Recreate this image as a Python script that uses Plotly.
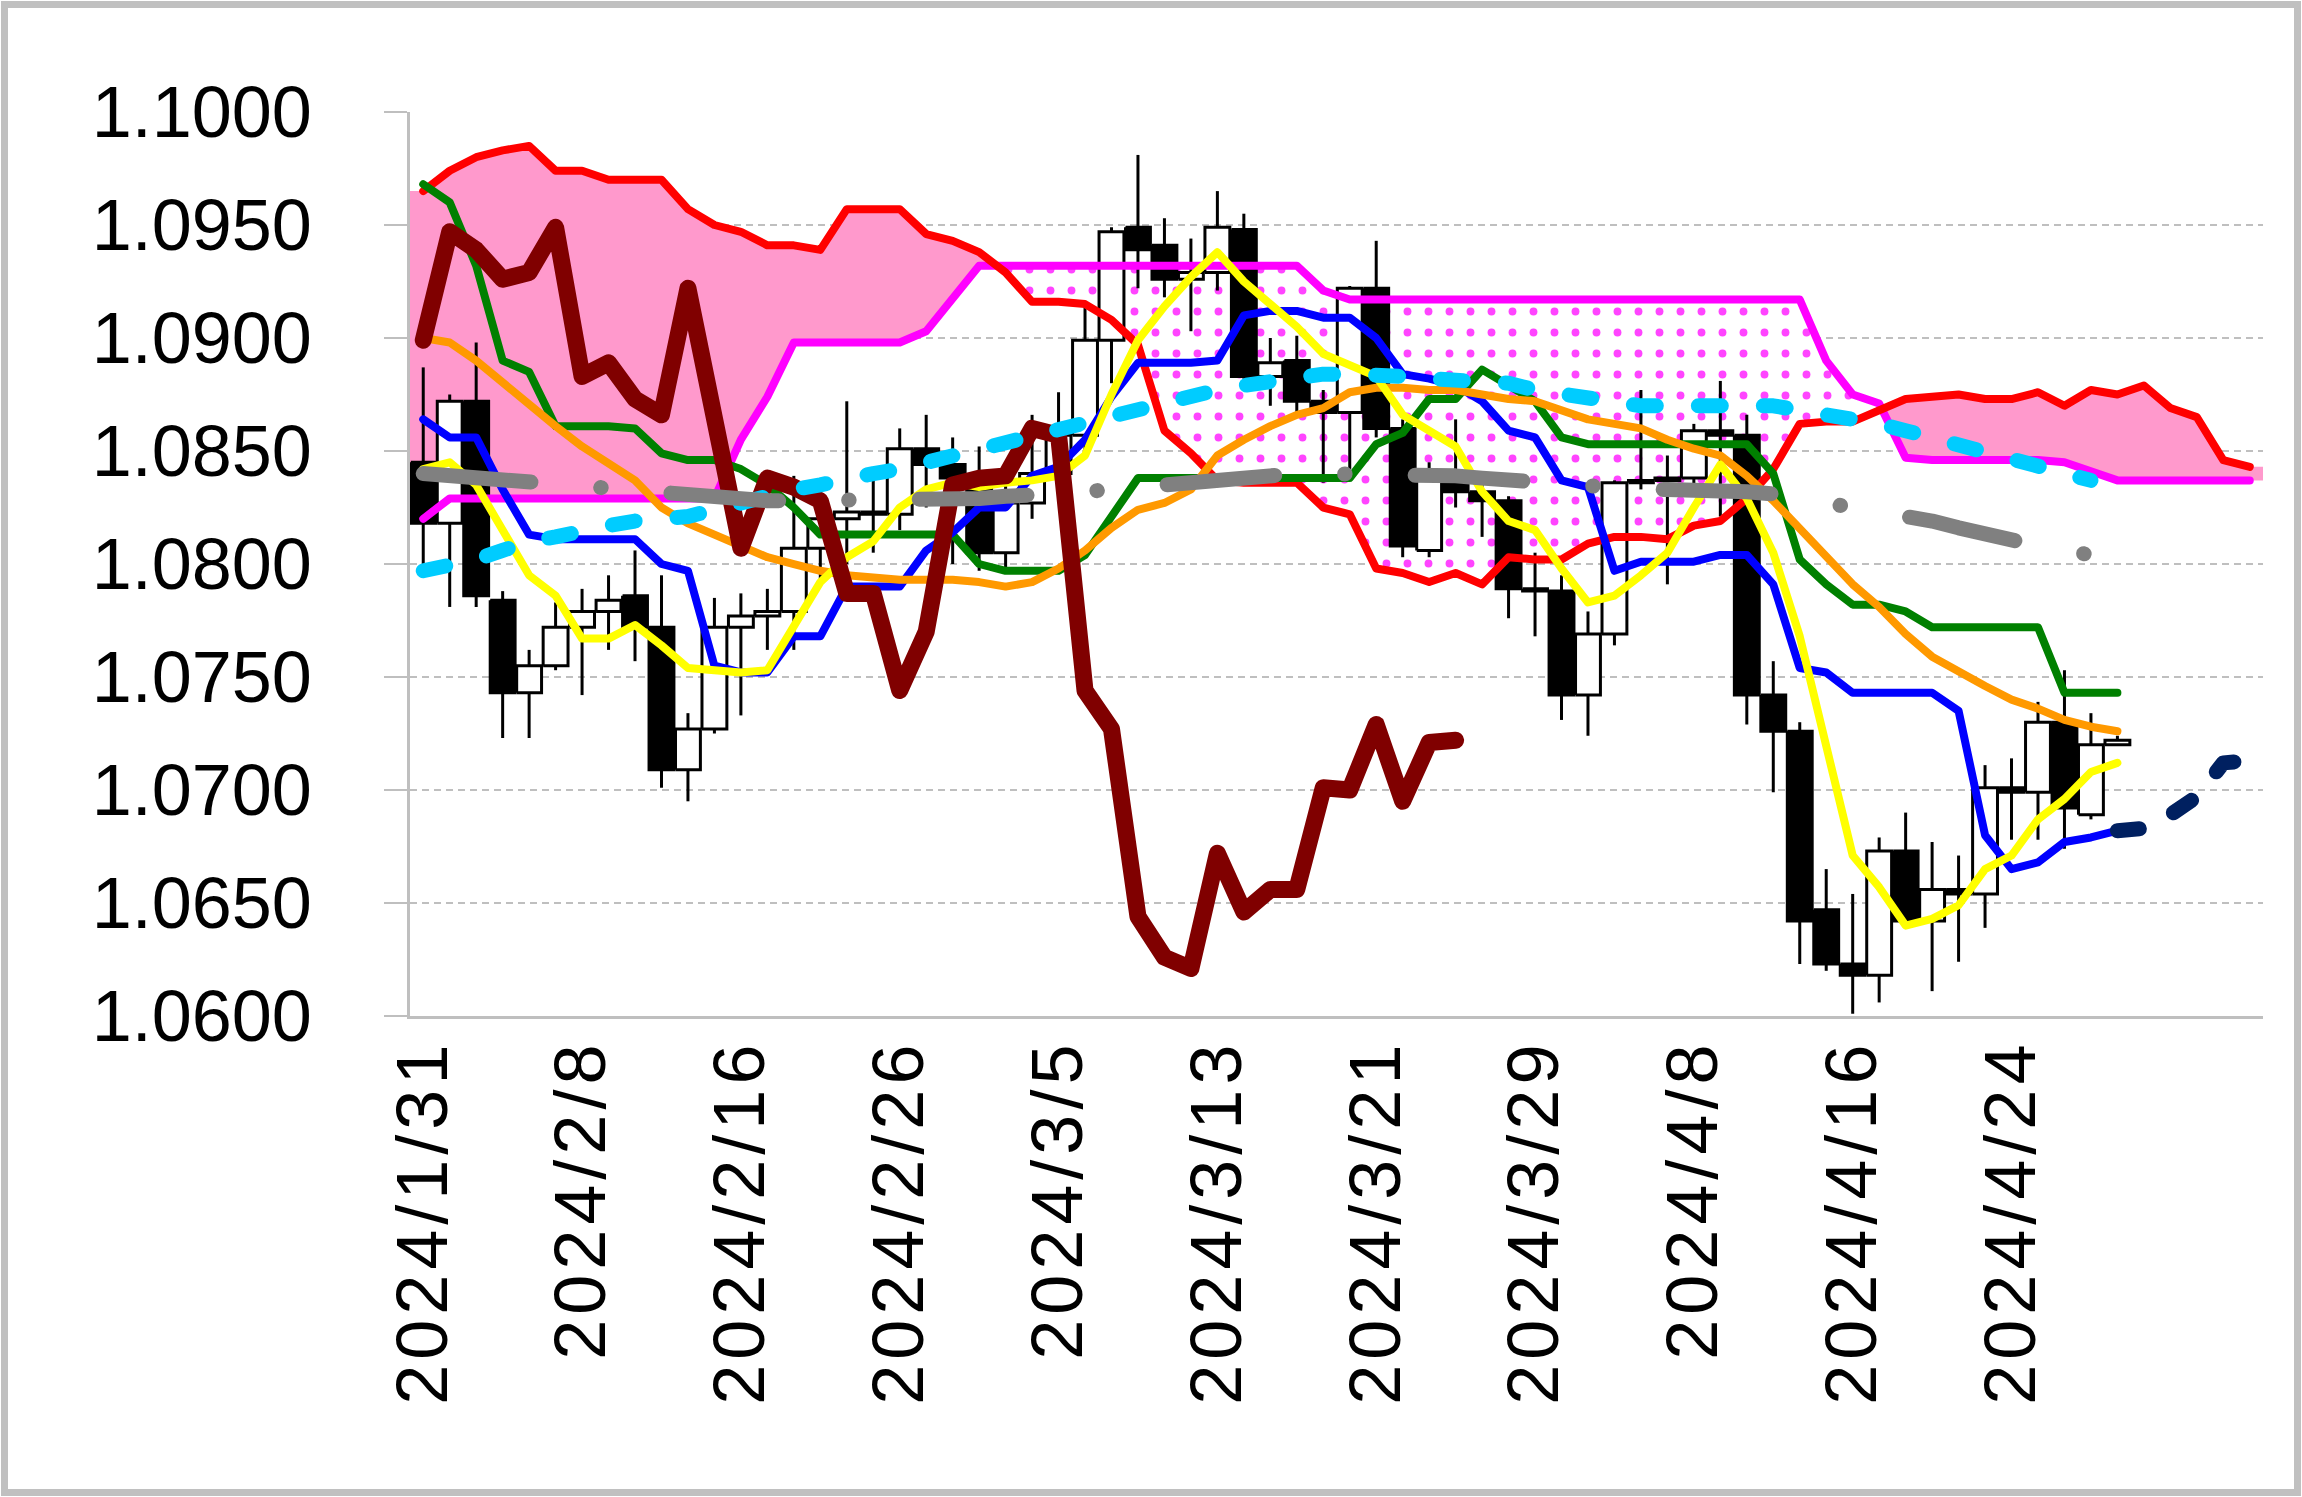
import numpy as np
import pandas as pd
import plotly.graph_objects as go

# ---------------- data ----------------
N_SLOTS = 70
dates = pd.bdate_range("2024-01-31", periods=N_SLOTS)
categories = [f"{d.year}/{d.month}/{d.day}" for d in dates]
tick_labels = ["2024/1/31", "2024/2/8", "2024/2/16", "2024/2/26", "2024/3/5", "2024/3/13",
               "2024/3/21", "2024/3/29", "2024/4/8", "2024/4/16", "2024/4/24"]

opens = [1.0845, 1.0818, 1.0872, 1.0784, 1.0743, 1.0755, 1.0772, 1.0779, 1.0786, 1.0772,
         1.0709, 1.0727, 1.0772, 1.0777, 1.0779, 1.0807, 1.0820, 1.0823, 1.0822, 1.0851,
         1.0844, 1.0838, 1.0805, 1.0827, 1.0840, 1.0857, 1.0899, 1.0949, 1.0941, 1.0926,
         1.0929, 1.0948, 1.0883, 1.0890, 1.0872, 1.0867, 1.0922, 1.0860, 1.0806, 1.0836,
         1.0832, 1.0828, 1.0789, 1.0788, 1.0742, 1.0769, 1.0836, 1.0837, 1.0838, 1.0859,
         1.0857, 1.0742, 1.0726, 1.0647, 1.0623, 1.0618, 1.0673, 1.0642, 1.0656, 1.0654,
         1.0701, 1.0699, 1.0730, 1.0689, 1.0720]
highs = [1.0887, 1.0875, 1.0898, 1.0788, 1.0762, 1.0783, 1.0789, 1.0795, 1.0806, 1.0795,
         1.0734, 1.0785, 1.0787, 1.0789, 1.0839, 1.0830, 1.0872, 1.0840, 1.0860, 1.0866,
         1.0856, 1.0852, 1.0835, 1.0866, 1.0876, 1.0914, 1.0949, 1.0981, 1.0953, 1.0944,
         1.0965, 1.0955, 1.0900, 1.0901, 1.0877, 1.0923, 1.0943, 1.0864, 1.0845, 1.0864,
         1.0840, 1.0830, 1.0805, 1.0795, 1.0779, 1.0837, 1.0877, 1.0848, 1.0862, 1.0881,
         1.0866, 1.0757, 1.0730, 1.0665, 1.0654, 1.0679, 1.0690, 1.0677, 1.0671, 1.0711,
         1.0714, 1.0739, 1.0753, 1.0734, 1.0724]
lows = [1.0800, 1.0781, 1.0781, 1.0723, 1.0723, 1.0753, 1.0742, 1.0762, 1.0757, 1.0701,
        1.0695, 1.0725, 1.0733, 1.0762, 1.0762, 1.0792, 1.0800, 1.0805, 1.0815, 1.0825,
        1.0800, 1.0797, 1.0798, 1.0820, 1.0830, 1.0848, 1.0880, 1.0922, 1.0918, 1.0903,
        1.0921, 1.0882, 1.0870, 1.0866, 1.0836, 1.0842, 1.0856, 1.0803, 1.0803, 1.0825,
        1.0812, 1.0776, 1.0768, 1.0731, 1.0724, 1.0764, 1.0833, 1.0791, 1.0831, 1.0821,
        1.0729, 1.0699, 1.0623, 1.0620, 1.0601, 1.0606, 1.0640, 1.0611, 1.0624, 1.0639,
        1.0678, 1.0678, 1.0674, 1.0687, 1.0720]
closes = [1.0818, 1.0872, 1.0786, 1.0743, 1.0755, 1.0772, 1.0779, 1.0784, 1.0772, 1.0709,
          1.0727, 1.0772, 1.0777, 1.0779, 1.0807, 1.0820, 1.0823, 1.0822, 1.0851, 1.0844,
          1.0838, 1.0805, 1.0827, 1.0840, 1.0857, 1.0899, 1.0947, 1.0939, 1.0926, 1.0929,
          1.0949, 1.0883, 1.0889, 1.0872, 1.0867, 1.0922, 1.0860, 1.0808, 1.0838, 1.0832,
          1.0828, 1.0789, 1.0788, 1.0742, 1.0769, 1.0836, 1.0837, 1.0838, 1.0859, 1.0857,
          1.0742, 1.0726, 1.0642, 1.0623, 1.0618, 1.0673, 1.0642, 1.0656, 1.0654, 1.0701,
          1.0699, 1.0730, 1.0692, 1.0720, 1.0722]

span_a = [1.0965, 1.0974, 1.0980, 1.0983, 1.0985, 1.0974, 1.0974, 1.0970, 1.0970, 1.0970,
          1.0957, 1.0950, 1.0947, 1.0941, 1.0941, 1.0939, 1.0957, 1.0957, 1.0957, 1.0946,
          1.0943, 1.0938, 1.0929, 1.0916, 1.0916, 1.0915, 1.0908, 1.0897, 1.0859, 1.0849,
          1.0837, 1.0836, 1.0836, 1.0836, 1.0825, 1.0822, 1.0798, 1.0796, 1.0792, 1.0796,
          1.0791, 1.0803, 1.0802, 1.0802, 1.0809, 1.0812, 1.0812, 1.0811, 1.0817, 1.0819,
          1.0829, 1.0842, 1.0862, 1.0863, 1.0863, 1.0868, 1.0873, 1.0874, 1.0875, 1.0873,
          1.0873, 1.0876, 1.0870, 1.0877, 1.0875, 1.0879, 1.0869, 1.0865, 1.0846, 1.0843]
span_b = [1.0820, 1.0829, 1.0829, 1.0829, 1.0829, 1.0829, 1.0829, 1.0829, 1.0829, 1.0829,
          1.0829, 1.0829, 1.0855, 1.0874, 1.0898, 1.0898, 1.0898, 1.0898, 1.0898, 1.0903,
          1.0917, 1.0932, 1.0932, 1.0932, 1.0932, 1.0932, 1.0932, 1.0932, 1.0932, 1.0932,
          1.0932, 1.0932, 1.0932, 1.0932, 1.0921, 1.0917, 1.0917, 1.0917, 1.0917, 1.0917,
          1.0917, 1.0917, 1.0917, 1.0917, 1.0917, 1.0917, 1.0917, 1.0917, 1.0917, 1.0917,
          1.0917, 1.0917, 1.0917, 1.0890, 1.0875, 1.0871, 1.0847, 1.0846, 1.0846, 1.0846,
          1.0846, 1.0846, 1.0845, 1.0841, 1.0837, 1.0837, 1.0837, 1.0837, 1.0837, 1.0837]
kijun = [1.0968, 1.0960, 1.0932, 1.0890, 1.0885, 1.0861, 1.0861, 1.0861, 1.0860, 1.0849,
         1.0846, 1.0846, 1.0842, 1.0835, 1.0825, 1.0813, 1.0813, 1.0813, 1.0813, 1.0813,
         1.0813, 1.0800, 1.0797, 1.0797, 1.0797, 1.0804, 1.0821, 1.0838, 1.0838, 1.0838,
         1.0838, 1.0838, 1.0838, 1.0838, 1.0838, 1.0838, 1.0853, 1.0858, 1.0873, 1.0873,
         1.0886, 1.0879, 1.0872, 1.0856, 1.0853, 1.0853, 1.0853, 1.0853, 1.0853, 1.0853,
         1.0853, 1.0840, 1.0802, 1.0791, 1.0782, 1.0782, 1.0779, 1.0772, 1.0772, 1.0772,
         1.0772, 1.0772, 1.0743, 1.0743, 1.0743]
tenkan = [1.0864, 1.0856, 1.0856, 1.0833, 1.0813, 1.0811, 1.0811, 1.0811, 1.0811, 1.0800,
          1.0797, 1.0755, 1.0752, 1.0752, 1.0768, 1.0768, 1.0790, 1.0790, 1.0790, 1.0806,
          1.0814, 1.0825, 1.0825, 1.0839, 1.0843, 1.0855, 1.0874, 1.0889, 1.0889, 1.0889,
          1.0890, 1.0910, 1.0912, 1.0912, 1.0909, 1.0909, 1.0900, 1.0884, 1.0882, 1.0879,
          1.0872, 1.0859, 1.0856, 1.0837, 1.0834, 1.0797, 1.0801, 1.0801, 1.0801, 1.0804,
          1.0804, 1.0791, 1.0754, 1.0752, 1.0743, 1.0743, 1.0743, 1.0743, 1.0735, 1.0680,
          1.0665, 1.0668, 1.0677, 1.0679, 1.0682]
tenkan_future = [1.0682, 1.0683, 1.0689, 1.0697, 1.0712, 1.0713]
ma_short = [1.0842, 1.0845, 1.0835, 1.0815, 1.0795, 1.0786, 1.0767, 1.0767, 1.0773, 1.0764,
            1.0754, 1.0753, 1.0752, 1.0753, 1.0773, 1.0792, 1.0803, 1.0810, 1.0825, 1.0833,
            1.0836, 1.0834, 1.0836, 1.0837, 1.0839, 1.0848, 1.0875, 1.0899, 1.0914, 1.0927,
            1.0938, 1.0925, 1.0915, 1.0905, 1.0893, 1.0888, 1.0883, 1.0866, 1.0859, 1.0852,
            1.0832, 1.0819, 1.0815, 1.0798, 1.0783, 1.0786, 1.0795, 1.0805, 1.0825, 1.0844,
            1.0829, 1.0805, 1.0768, 1.0720, 1.0671, 1.0657, 1.0640, 1.0643, 1.0649, 1.0665,
            1.0671, 1.0687, 1.0696, 1.0708, 1.0712]
ma_mid = [1.0900, 1.0898, 1.0890, 1.0880, 1.0870, 1.0861, 1.0852, 1.0845, 1.0837, 1.0825,
          1.0818, 1.0813, 1.0808, 1.0803, 1.0800, 1.0797, 1.0795, 1.0794, 1.0793, 1.0793,
          1.0793, 1.0792, 1.0790, 1.0792, 1.0798, 1.0806, 1.0816, 1.0824, 1.0827, 1.0833,
          1.0848, 1.0855, 1.0861, 1.0866, 1.0869, 1.0876, 1.0878, 1.0878, 1.0877, 1.0877,
          1.0875, 1.0873, 1.0872, 1.0868, 1.0864, 1.0862, 1.0860, 1.0855, 1.0851, 1.0848,
          1.0839, 1.0828, 1.0816, 1.0804, 1.0791, 1.0781, 1.0769, 1.0759, 1.0752, 1.0746,
          1.0740, 1.0736, 1.0731, 1.0728, 1.0726]
ma_long = [1.0797, 1.0799, 1.0802, 1.0806, 1.0810, 1.0812, 1.0815, 1.0817, 1.0819, 1.0820,
           1.0821, 1.0824, 1.0827, 1.0831, 1.0833, 1.0835, 1.0838, 1.0840, 1.0842, 1.0845,
           1.0848, 1.0851, 1.0854, 1.0856, 1.0859, 1.0862, 1.0866, 1.0869, 1.0871, 1.0874,
           1.0877, 1.0879, 1.0881, 1.0883, 1.0884, 1.0884, 1.0884, 1.0883, 1.0882, 1.0881,
           1.0881, 1.0880, 1.0877, 1.0875, 1.0873, 1.0871, 1.0870, 1.0870, 1.0870, 1.0871,
           1.0871, 1.0870, 1.0868, 1.0866, 1.0865, 1.0862, 1.0859, 1.0856, 1.0852, 1.0850,
           1.0847, 1.0844, 1.0841, 1.0837]
ma_xlong = [1.0840, 1.0839, 1.0838, 1.0837, 1.0836, 1.0835, 1.0834, 1.0833, 1.0832, 1.0831,
            1.0830, 1.0829, 1.0829, 1.0828, 1.0828, 1.0828, 1.0828, 1.0828, 1.0828, 1.0829,
            1.0829, 1.0829, 1.0830, 1.0830, 1.0831, 1.0832, 1.0833, 1.0834, 1.0836, 1.0837,
            1.0838, 1.0838, 1.0839, 1.0840, 1.0840, 1.0840, 1.0840, 1.0840, 1.0840, 1.0839,
            1.0838, 1.0837, 1.0836, 1.0835, 1.0834, 1.0833, 1.0833, 1.0833, 1.0833, 1.0832,
            1.0832, 1.0831, 1.0829, 1.0828, 1.0826, 1.0824, 1.0821, 1.0819, 1.0816, 1.0813,
            1.0811, 1.0808, 1.0806, 1.0804]
chikou = [1.0899, 1.0947, 1.0939, 1.0926, 1.0929, 1.0949, 1.0883, 1.0889, 1.0873, 1.0866,
          1.0922, 1.0862, 1.0807, 1.0838, 1.0834, 1.0828, 1.0787, 1.0787, 1.0744, 1.0770,
          1.0835, 1.0838, 1.0839, 1.0860, 1.0857, 1.0744, 1.0727, 1.0644, 1.0626, 1.0621,
          1.0672, 1.0646, 1.0656, 1.0656, 1.0701, 1.0700, 1.0729, 1.0695, 1.0721, 1.0722]

# ---------------- geometry of the page ----------------
W, H = 2302, 1497
ML, MR, MT, MB = 410, 39, 112, 481
PW, PH = W - ML - MR, H - MT - MB
FONT = "Liberation Sans, Arial, sans-serif"

def paper_x(px):
    return (px - ML) / PW

def paper_y(py):
    return (H - MB - py) / PH

x_all = np.arange(N_SLOTS, dtype=float)
fig = go.Figure()

# ---------------- cloud ----------------
A = np.array(span_a)
B = np.array(span_b)
cx, ca, cb = [x_all[0] - 0.5], [A[0]], [B[0]]
for i in range(len(A)):
    cx.append(x_all[i]); ca.append(A[i]); cb.append(B[i])
    if i < len(A) - 1:
        d0, d1 = A[i] - B[i], A[i + 1] - B[i + 1]
        if d0 * d1 < 0:
            t = d0 / (d0 - d1)
            cx.append(x_all[i] + t)
            v = A[i] + t * (A[i + 1] - A[i])
            ca.append(v); cb.append(v)
cx.append(x_all[len(A) - 1] + 0.5); ca.append(A[-1]); cb.append(B[-1])
ca, cb = np.array(ca), np.array(cb)
top = np.maximum(ca, cb)

fig.add_trace(go.Scatter(x=cx, y=cb, mode="lines", line=dict(width=0), hoverinfo="skip"))
fig.add_trace(go.Scatter(x=cx, y=top, mode="lines", line=dict(width=0), fill="tonexty",
                         fillcolor="#FF99CC", hoverinfo="skip"))
fig.add_trace(go.Scatter(x=cx, y=ca, mode="lines", line=dict(width=0), hoverinfo="skip"))
fig.add_trace(go.Scatter(x=cx, y=top, mode="lines", line=dict(width=0), fill="tonexty",
                         fillcolor="#FFFFFF",
                         fillpattern=dict(shape=".", fgcolor="#FF44FF", bgcolor="#FFFFFF",
                                          size=21, solidity=0.11, fillmode="replace"),
                         hoverinfo="skip"))

# ---------------- candles ----------------
nc = len(closes)
hw = 0.47
wx, wy = [], []
ux, uy, dx, dy = [], [], [], []
for i in range(nc):
    wx += [x_all[i], x_all[i], None]
    wy += [lows[i], highs[i], None]
    o, c = opens[i], closes[i]
    px_ = [x_all[i] - hw, x_all[i] + hw, x_all[i] + hw, x_all[i] - hw, x_all[i] - hw, None]
    py_ = [o, o, c, c, o, None]
    if c >= o:
        ux += px_; uy += py_
    else:
        dx += px_; dy += py_
fig.add_trace(go.Scatter(x=wx, y=wy, mode="lines", line=dict(color="black", width=3),
                         hoverinfo="skip"))
fig.add_trace(go.Scatter(x=ux, y=uy, mode="lines", fill="toself", fillcolor="white",
                         line=dict(color="black", width=3), hoverinfo="skip"))
fig.add_trace(go.Scatter(x=dx, y=dy, mode="lines", fill="toself", fillcolor="black",
                         line=dict(color="black", width=3), hoverinfo="skip"))

# ---------------- indicator lines ----------------
round_idx = []

def add_line(xv, yv, color, width, dash="solid", rnd=True):
    fig.add_trace(go.Scatter(x=xv, y=yv, mode="lines",
                             line=dict(color=color, width=width, dash=dash), hoverinfo="skip"))
    if rnd:
        round_idx.append(len(fig.data) - 1)

add_line(x_all[:len(span_b)], span_b, "#FF00FF", 8)
add_line(x_all[:len(span_a)], span_a, "#FF0000", 8)
add_line(x_all[:len(kijun)], kijun, "#008000", 8)
add_line(x_all[:len(tenkan)], tenkan, "#0000FF", 8)
add_line(x_all[:len(ma_mid)], ma_mid, "#FF9900", 8)
add_line(x_all[:len(ma_short)], ma_short, "#FFFF00", 8)
add_line(x_all[:len(chikou)], chikou, "#800000", 17)
add_line(x_all[:len(ma_long)], ma_long, "#00CCFF", 15, dash="23px,42px")
add_line(x_all[:len(ma_xlong)], ma_xlong, "#808080", 15, dash="108px,70px,0.5px,70px")
fstart = len(tenkan) - 1
add_line(x_all[fstart:fstart + len(tenkan_future)], tenkan_future, "#002060", 15,
         dash="22px,38px")

# ---------------- axes ----------------
tick_pos = [categories.index(t) for t in tick_labels]
fig.update_xaxes(range=[-0.5, N_SLOTS - 0.5], tickmode="array", tickvals=tick_pos,
                 ticktext=tick_labels, tickangle=-90, showgrid=False, zeroline=False,
                 showline=True, linecolor="#BFBFBF", linewidth=2.5, ticks="",
                 tickfont=dict(family=FONT, size=72, color="black"), ticklabelstandoff=-8)
fig.update_yaxes(range=[1.06, 1.10], dtick=0.005, tick0=1.06, tickformat=".4f",
                 showgrid=True, gridcolor="#BFBFBF", gridwidth=1.5, griddash="7px,5px",
                 zeroline=False, showline=True, linecolor="#BFBFBF", linewidth=2.5,
                 ticks="outside", ticklen=23, tickcolor="#BFBFBF", tickwidth=2,
                 tickfont=dict(family=FONT, size=72, color="black"), ticklabelstandoff=58)

# outer chart-area border
fig.add_shape(type="rect", xref="paper", yref="paper",
              x0=paper_x(4.5), x1=paper_x(W - 4.5), y0=paper_y(H - 4.5), y1=paper_y(4.5),
              line=dict(color="#C0C0C0", width=7), layer="above")

fig.update_layout(width=W, height=H, margin=dict(l=ML, r=MR, t=MT, b=MB, pad=0),
                  paper_bgcolor="white", plot_bgcolor="white", showlegend=False,
                  font=dict(family=FONT, color="black"))

idx_js = ",".join(str(i) for i in round_idx)
post = """
var gd = document.getElementById('{plot_id}');
function fixstyle(){
  var tr = gd.querySelectorAll('.scatterlayer .trace');
  [%s].forEach(function(k){
    if(tr[k]){ tr[k].querySelectorAll('path.js-line').forEach(function(p){
      p.style.strokeLinecap='round'; p.style.strokeLinejoin='round'; }); }
  });
  gd.querySelectorAll('.xtick text').forEach(function(t){ t.style.letterSpacing='5px'; });
}
fixstyle();
gd.on('plotly_afterplot', fixstyle);
""" % idx_js
fig.write_html("out.html", post_script=post, config={"displayModeBar": False})
